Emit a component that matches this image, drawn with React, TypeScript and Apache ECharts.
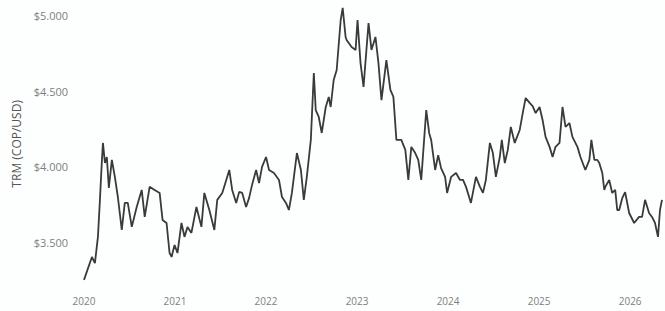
import React, { useEffect, useRef } from "react";
import * as echarts from "echarts";

// Decimal year of each reading
const years: number[] = [
  2020.0, 2020.087, 2020.12, 2020.153, 2020.175, 2020.197, 2020.208, 2020.23, 2020.251, 2020.273,
  2020.306, 2020.339, 2020.372, 2020.415, 2020.448, 2020.481, 2020.525, 2020.579, 2020.634, 2020.667,
  2020.721, 2020.776, 2020.831, 2020.863, 2020.907, 2020.94, 2020.962, 2020.995, 2021.027, 2021.071,
  2021.104, 2021.137, 2021.18, 2021.235, 2021.29, 2021.322, 2021.377, 2021.432, 2021.464, 2021.519,
  2021.563, 2021.596, 2021.628, 2021.672, 2021.705, 2021.738, 2021.781, 2021.814, 2021.847, 2021.891,
  2021.923, 2021.956, 2022.0, 2022.033, 2022.087, 2022.142, 2022.175, 2022.219, 2022.251, 2022.284,
  2022.339, 2022.383, 2022.415, 2022.448, 2022.492, 2022.525, 2022.546, 2022.579, 2022.612, 2022.656,
  2022.689, 2022.71, 2022.743, 2022.776, 2022.82, 2022.842, 2022.874, 2022.885, 2022.94, 2022.984,
  2023.005, 2023.038, 2023.071, 2023.126, 2023.158, 2023.202, 2023.235, 2023.268, 2023.322, 2023.366,
  2023.399, 2023.432, 2023.486, 2023.53, 2023.563, 2023.596, 2023.639, 2023.672, 2023.705, 2023.76,
  2023.792, 2023.814, 2023.858, 2023.891, 2023.923, 2023.967, 2023.989, 2024.033, 2024.087, 2024.131,
  2024.164, 2024.197, 2024.251, 2024.306, 2024.35, 2024.383, 2024.415, 2024.459, 2024.492, 2024.525,
  2024.568, 2024.59, 2024.623, 2024.656, 2024.689, 2024.732, 2024.787, 2024.82, 2024.852, 2024.896,
  2024.929, 2024.962, 2025.005, 2025.038, 2025.071, 2025.115, 2025.148, 2025.18, 2025.224, 2025.257,
  2025.29, 2025.333, 2025.366, 2025.421, 2025.454, 2025.508, 2025.552, 2025.574, 2025.607, 2025.639,
  2025.661, 2025.694, 2025.716, 2025.727, 2025.77, 2025.803, 2025.836, 2025.858, 2025.88, 2025.913,
  2025.945, 2025.989, 2026.044, 2026.098, 2026.131, 2026.164, 2026.208, 2026.24, 2026.273, 2026.306,
  2026.328, 2026.35,
];

// TRM (COP per USD)
const trm: number[] = [
  3249, 3401, 3360, 3534, 3779, 4044, 4156, 4023, 4063, 3858,
  4044, 3931, 3798, 3580, 3759, 3759, 3600, 3732, 3845, 3666,
  3865, 3845, 3825, 3646, 3626, 3427, 3401, 3480, 3427, 3626,
  3534, 3600, 3560, 3732, 3600, 3825, 3712, 3580, 3779, 3825,
  3911, 3977, 3845, 3759, 3832, 3825, 3732, 3792, 3880, 3977,
  3891, 3997, 4063, 3977, 3957, 3911, 3798, 3759, 3712, 3825,
  4089, 3977, 3779, 3931, 4176, 4619, 4374, 4328, 4222, 4394,
  4461, 4394, 4573, 4639, 4970, 5050, 4858, 4838, 4791, 4772,
  4970, 4685, 4527, 4950, 4772, 4858, 4685, 4440, 4705, 4507,
  4461, 4176, 4176, 4110, 3911, 4130, 4089, 4044, 3911, 4374,
  4222, 4176, 3977, 4075, 3990, 3931, 3825, 3931, 3957, 3911,
  3911, 3865, 3759, 3931, 3865, 3825, 3911, 4156, 4089, 3931,
  4063, 4176, 4023, 4110, 4262, 4156, 4242, 4354, 4454, 4421,
  4400, 4354, 4394, 4308, 4196, 4130, 4063, 4130, 4156, 4394,
  4262, 4288, 4196, 4130, 4063, 3977, 4044, 4176, 4044, 4044,
  4023, 3957, 3845, 3865, 3911, 3825, 3845, 3712, 3712, 3790,
  3830, 3692, 3626, 3666, 3666, 3779, 3692, 3666, 3626, 3534,
  3712, 3779,
];

const xTickYears: number[] = [2020, 2021, 2022, 2023, 2024, 2025, 2026];
const xTickLabels: string[] = ["2020", "2021", "2022", "2023", "2024", "2025", "2026"];
const yTickValues: number[] = [3500, 4000, 4500, 5000];
const yTickLabels: string[] = ["$3.500", "$4.000", "$4.500", "$5.000"];
const yAxisTitle = "TRM (COP/USD)";

export default function App() {
  const ref = useRef<HTMLDivElement>(null);
  useEffect(() => {
    if (!ref.current) return;
    const chart = echarts.init(ref.current, undefined, { renderer: "svg" });
    const data = years.map((y, i) => [y, trm[i]]);
    chart.setOption({
      animation: false,
      backgroundColor: "#fdfefe",
      grid: { left: 84, right: 0, top: 0.4, bottom: 23.7, containLabel: false },
      xAxis: {
        type: "value",
        min: 2020,
        max: 2026.35,
        interval: 1,
        axisLine: { show: false },
        axisTick: { show: false },
        splitLine: { show: false },
        axisLabel: {
          margin: 9,
          fontFamily: "Open Sans",
          fontSize: 10,
          color: "#7e7e7e",
          formatter: (v: number) => {
            const i = xTickYears.findIndex((t) => Math.abs(t - v) < 1e-6);
            return i >= 0 ? xTickLabels[i] : "";
          },
        },
      },
      yAxis: {
        type: "value",
        min: 3200,
        max: 5100,
        interval: 100,
        name: yAxisTitle,
        nameLocation: "middle",
        nameGap: 60,
        nameTextStyle: { fontFamily: "Open Sans", fontSize: 12, color: "#555555" },
        axisLine: { show: false },
        axisTick: { show: false },
        splitLine: { show: false },
        axisLabel: {
          margin: 16,
          fontFamily: "Open Sans",
          fontSize: 11,
          color: "#7e7e7e",
          formatter: (v: number) => {
            const i = yTickValues.findIndex((t) => Math.abs(t - v) < 1e-6);
            return i >= 0 ? yTickLabels[i] : "";
          },
        },
      },
      series: [
        {
          type: "line",
          data,
          showSymbol: false,
          symbol: "none",
          clip: false,
          lineStyle: { color: "#3a3a3a", width: 1.8 },
        },
      ],
    });
    return () => chart.dispose();
  }, []);
  return (
    <div
      ref={ref}
      style={{ position: "fixed", left: 0, top: 0, width: 665, height: 311 }}
    />
  );
}
